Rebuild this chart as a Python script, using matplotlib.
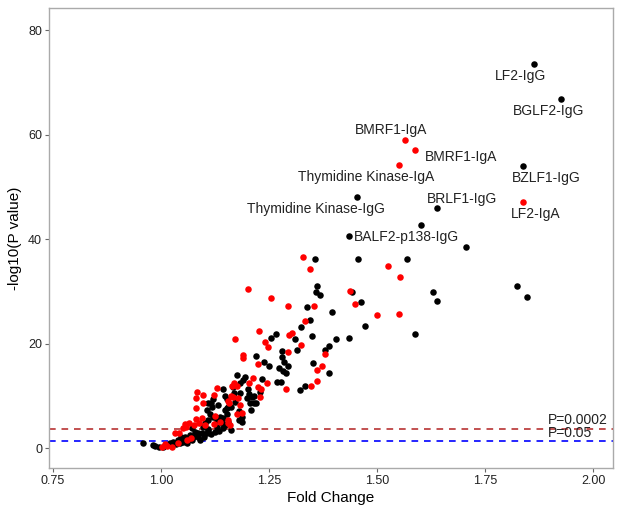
import matplotlib
matplotlib.use("Agg")
import matplotlib.pyplot as plt
import numpy as np

plt.rcParams['font.family'] = ['Liberation Sans', 'DejaVu Sans']

# IgG antibodies (black points): fold change, -log10(P)
igg_fc = [1.863, 1.926, 1.837, 1.453, 1.638, 1.601, 1.435, 1.705, 1.356, 1.456,
          1.570, 1.362, 1.359, 1.367, 1.337, 1.443, 1.462, 1.395, 1.630, 1.638,
          1.823, 1.848, 1.588, 1.345, 1.323, 1.350, 1.472, 1.266, 1.255, 1.311,
          1.405, 1.434, 1.389, 1.379, 1.279, 1.314, 1.281, 1.220, 1.238, 1.251,
          1.285, 1.295, 1.274, 1.283, 1.289, 1.353, 1.389, 1.176, 1.195, 1.191,
          1.234, 1.268, 1.278, 1.322, 1.333, 1.184, 1.166, 1.144, 1.148, 1.170,
          1.183, 1.202, 1.204, 1.198, 1.230, 1.210, 1.207, 1.216, 1.208, 1.181,
          1.187, 1.187, 1.181, 1.155, 1.152, 1.144, 1.115, 1.132, 1.106, 1.113,
          1.121, 1.109, 1.129, 1.137, 1.141, 1.129, 1.144, 1.149, 1.161, 1.155,
          1.103, 1.098, 1.108, 1.094, 1.071, 1.079, 1.075, 1.086, 1.109, 1.106,
          1.073, 1.067, 1.046, 1.056, 1.061, 1.040, 1.028, 1.050, 1.021, 1.013,
          0.986, 0.982, 0.959, 1.086, 1.152, 1.153, 1.163, 1.148, 1.171, 1.109,
          1.117, 1.121, 1.221, 1.215, 0.995, 1.005, 1.035, 1.045, 1.060, 1.090,
          1.100, 1.115, 1.125, 1.135]
igg_logp = [73.6, 66.8, 54.0, 48.0, 46.0, 42.8, 40.7, 38.6, 36.3, 36.2,
            36.3, 31.0, 29.8, 29.3, 27.0, 29.9, 27.9, 26.1, 29.9, 28.2,
            31.1, 29.0, 21.8, 24.5, 23.1, 21.5, 23.4, 21.8, 21.0, 20.9,
            20.8, 21.1, 19.5, 18.8, 18.6, 18.8, 17.5, 17.6, 16.5, 15.8,
            16.4, 15.8, 15.4, 14.8, 14.3, 16.3, 14.3, 13.9, 13.7, 13.0,
            13.2, 12.7, 12.7, 11.1, 11.9, 12.5, 11.6, 11.4, 10.0, 10.5,
            10.5, 11.4, 10.3, 9.5, 10.8, 9.8, 8.7, 8.6, 7.2, 5.4,
            4.9, 6.0, 7.0, 7.9, 6.6, 5.7, 8.6, 8.2, 7.3, 6.6,
            6.0, 5.4, 5.4, 6.0, 4.7, 4.1, 3.8, 4.4, 3.4, 5.0,
            4.7, 4.0, 3.4, 2.9, 3.8, 3.1, 2.2, 2.8, 3.6, 2.8,
            1.5, 2.5, 2.2, 2.2, 1.7, 1.5, 1.2, 1.2, 0.9, 0.6,
            0.38, 0.57, 0.9, 2.2, 9.3, 7.6, 7.9, 7.2, 8.9, 8.6,
            7.9, 9.3, 8.6, 9.9, 0.1, 0.2, 0.7, 0.9, 1.0, 1.6,
            2.2, 2.6, 3.0, 3.2]

# IgA antibodies (red points)
iga_fc = [1.564, 1.589, 1.551, 1.837, 1.328, 1.346, 1.526, 1.552, 1.202, 1.255,
          1.294, 1.355, 1.438, 1.448, 1.499, 1.550, 1.334, 1.228, 1.172, 1.304,
          1.297, 1.241, 1.247, 1.325, 1.380, 1.294, 1.191, 1.189, 1.224, 1.373,
          1.360, 1.213, 1.246, 1.362, 1.347, 1.170, 1.165, 1.176, 1.225, 1.231,
          1.130, 1.123, 1.179, 1.204, 1.229, 1.289, 1.082, 1.080, 1.098, 1.162,
          1.084, 1.098, 1.124, 1.137, 1.123, 1.156, 1.082, 1.088, 1.076, 1.066,
          1.059, 1.052, 1.056, 1.032, 1.042, 1.025, 1.002, 1.009, 1.183, 1.187,
          1.175, 1.158, 1.167, 1.156, 1.094, 1.102, 1.155, 1.160, 1.015, 1.040,
          1.060, 1.070]
iga_logp = [59.1, 57.1, 54.2, 47.2, 36.6, 34.3, 34.9, 32.8, 30.5, 28.7,
            27.3, 27.3, 30.1, 27.6, 25.5, 25.7, 24.3, 22.5, 20.9, 22.1,
            21.6, 20.3, 19.4, 19.7, 18.0, 18.3, 17.8, 17.2, 16.1, 15.8,
            14.9, 13.5, 12.5, 12.8, 11.9, 12.5, 11.9, 11.9, 11.6, 11.4,
            11.5, 10.1, 9.6, 12.5, 9.8, 11.3, 9.5, 7.6, 8.6, 10.0,
            10.8, 10.2, 6.1, 4.9, 4.6, 4.8, 5.6, 4.7, 4.5, 4.8,
            4.1, 3.8, 4.6, 2.8, 2.9, 0.25, 0.13, 0.77, 8.2, 6.8,
            6.6, 8.6, 9.8, 9.1, 5.7, 4.4, 5.4, 4.4, 0.3, 1.0,
            1.5, 2.0]

# annotated antigens (text anchor positions)
label_names = ['LF2-IgG', 'BGLF2-IgG', 'BMRF1-IgA', 'BMRF1-IgA',
               'Thymidine Kinase-IgA', 'BZLF1-IgG', 'Thymidine Kinase-IgG',
               'BRLF1-IgG', 'LF2-IgA', 'BALF2-p138-IgG']
label_x = [1.833, 1.896, 1.532, 1.694, 1.475, 1.891, 1.359, 1.697, 1.867, 1.569]
label_y = [71.3, 64.6, 60.9, 55.8, 52.0, 51.8, 45.7, 47.7, 44.8, 40.5]

# significance thresholds
p_cut_strict = 0.0002
p_cut = 0.05

fig = plt.figure(figsize=(6.17, 5.13), dpi=100)
ax = fig.add_axes([49 / 617, 45 / 513, 564 / 617, 460 / 513])

ax.scatter(igg_fc, igg_logp, s=22, color='black', linewidths=0, zorder=3)
ax.scatter(iga_fc, iga_logp, s=22, color='red', linewidths=0, zorder=3)

y_strict = -np.log10(p_cut_strict)
y_cut = -np.log10(p_cut)
ax.axhline(y_strict, color='#b83232', ls=(0, (4, 3.5)), lw=1.2, zorder=2)
ax.axhline(y_cut, color='#0000ff', ls=(0, (4, 3.5)), lw=1.2, zorder=2)
ax.text(1.895, y_strict + 0.4, 'P=0.0002', fontsize=10, color='#222222', va='bottom')
ax.text(1.895, y_cut + 0.2, 'P=0.05', fontsize=10, color='#222222', va='bottom')

for name, lx, ly in zip(label_names, label_x, label_y):
    ax.text(lx, ly, name, fontsize=10, color='#222222', ha='center', va='center')

ax.set_xlim(0.741, 2.046)
ax.set_ylim(-3.83, 84.3)
ax.set_xticks([0.75, 1.00, 1.25, 1.50, 1.75, 2.00])
ax.set_xticklabels(['0.75', '1.00', '1.25', '1.50', '1.75', '2.00'])
ax.set_yticks([0, 20, 40, 60, 80])

for sp in ax.spines.values():
    sp.set_color('#aaaaaa')
    sp.set_linewidth(1.0)
ax.tick_params(direction='out', length=3, width=0.8, color='#666666',
               labelsize=9, labelcolor='#222222', pad=2)

ax.set_xlabel('Fold Change', fontsize=11, labelpad=3)
ax.set_ylabel('-log10(P value)', fontsize=11, labelpad=4)

fig.savefig('out.png', dpi=100)
